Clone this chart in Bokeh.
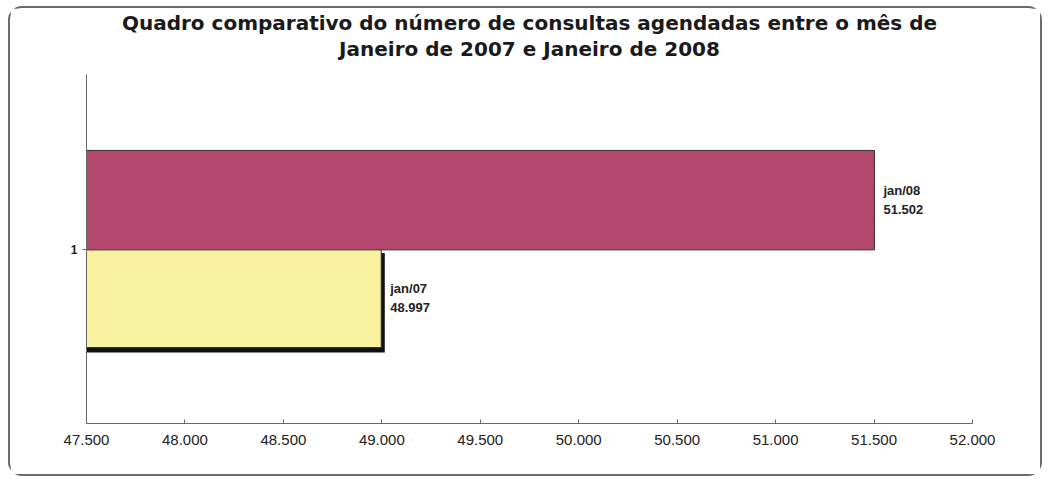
from bokeh.plotting import figure
from bokeh.models import ColumnDataSource, FixedTicker, Title, Range1d
from bokeh.transform import dodge
from bokeh.embed import file_html
from bokeh.resources import INLINE
from bokeh.core.properties import value

# ---- data ----
periods = ["jan/07", "jan/08"]
consultas = [48997, 51502]
value_labels = ["48.997", "51.502"]
bar_colors = ["#F6F29E", "#B3486F"]
category_pos = [0.86, 1.14]  # position of each series around category "1"
x_ticks = [47500, 48000, 48500, 49000, 49500, 50000, 50500, 51000, 51500, 52000]
x_tick_labels = ["47.500", "48.000", "48.500", "49.000", "49.500",
                 "50.000", "50.500", "51.000", "51.500", "52.000"]
y_ticks = [1]
y_tick_labels = ["1"]
title_lines = ["Quadro comparativo do número de consultas agendadas entre o mês de",
               "Janeiro de 2007 e Janeiro de 2008"]

src = ColumnDataSource(dict(
    y=category_pos,
    value=consultas,
    color=bar_colors,
    label=[f"{p}\n{v}" for p, v in zip(periods, value_labels)],
    base=[x_ticks[0]] * len(consultas),
))
shadow_src = ColumnDataSource(dict(
    y=category_pos[:1], value=consultas[:1], base=[x_ticks[0]],
))

p = figure(width=1034, height=470, output_backend="svg", toolbar_location=None,
           x_range=Range1d(x_ticks[0], x_ticks[-1]), y_range=Range1d(0.5, 1.5),
           min_border_left=76, min_border_right=72, min_border_top=60,
           min_border_bottom=55, background_fill_color="white",
           border_fill_color="white", outline_line_color=None)

p.styles = {"border": "2px solid #6b6b6b", "border-radius": "14px",
            "margin-left": "8px", "margin-top": "6px"}

# blank spacer between title and plot area
p.add_layout(Title(text=" ", text_font_size="11px", standoff=0), "above")
for line in reversed(title_lines):
    p.add_layout(Title(text=line, align="center", text_font="DejaVu Sans",
                       text_font_size="20px", text_font_style="bold",
                       text_color="#1a1a1a", standoff=0), "above")

# shadow under the yellow bar
p.hbar(y=dodge("y", -0.014), left="base", right=dodge("value", 18), height=0.285,
       source=shadow_src, fill_color="#111111", line_color=None)

p.hbar(y="y", left="base", right="value", height=0.285, source=src,
       fill_color="color", line_color="#3a2a30", line_width=1)

p.text(x="value", y="y", text="label", source=src, x_offset=9,
       text_font=value("Liberation Sans"), text_font_size="13px",
       text_font_style="bold", text_color="#222222", text_baseline="middle",
       text_align="left", text_line_height=1.3)

p.xaxis.ticker = FixedTicker(ticks=x_ticks)
p.xaxis.major_label_overrides = dict(zip(x_ticks, x_tick_labels))
p.yaxis.ticker = FixedTicker(ticks=y_ticks)
p.yaxis.major_label_overrides = dict(zip(y_ticks, y_tick_labels))

for ax in (p.xaxis[0], p.yaxis[0]):
    ax.axis_line_color = "#666666"
    ax.major_tick_line_color = "#666666"
    ax.minor_tick_line_color = None
    ax.major_label_text_font = "Liberation Sans"
    ax.major_label_text_color = "#222222"

p.xaxis.major_tick_in = 4
p.xaxis.major_tick_out = 0
p.xaxis.major_label_text_font_size = "15px"
p.xaxis.major_label_standoff = 11
p.yaxis.major_tick_in = 0
p.yaxis.major_tick_out = 4
p.yaxis.major_label_text_font_size = "12px"
p.yaxis.major_label_text_font_style = "bold"

p.xgrid.grid_line_color = None
p.ygrid.grid_line_color = None

open("out.html", "w").write(file_html(p, INLINE))
